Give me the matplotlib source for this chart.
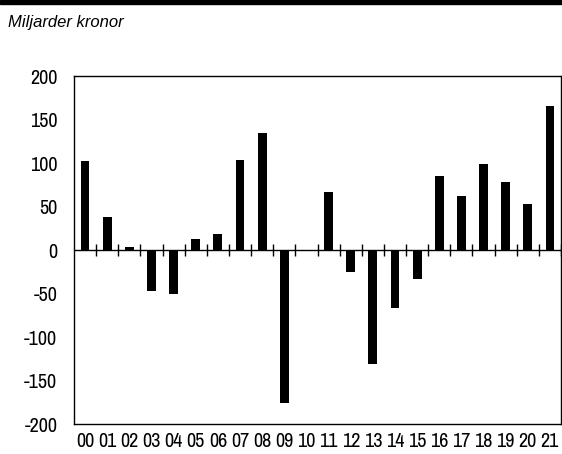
import matplotlib
matplotlib.use("Agg")
import matplotlib.pyplot as plt
from matplotlib.patches import Rectangle

# data
years = ['00', '01', '02', '03', '04', '05', '06', '07', '08', '09', '10',
         '11', '12', '13', '14', '15', '16', '17', '18', '19', '20', '21']
values = [102, 38, 3, -47, -51, 13, 18, 103, 135, -176, -1,
          67, -25, -131, -67, -33, 85, 62, 99, 78, 53, 166]
yticks = [-200, -150, -100, -50, 0, 50, 100, 150, 200]

plt.rcParams['font.family'] = ['Archivo Narrow', 'DejaVu Sans']

fig = plt.figure(figsize=(5.62, 4.54), dpi=100)
ax = fig.add_axes([74/562, 1 - 424/454, 487/562, 348/454])

x = list(range(len(years)))
ax.bar(x, values, width=0.4, color='black')

# nollinje med streck mellan åren
ax.axhline(0, color='black', linewidth=1)
ax.vlines([i + 0.5 for i in x], -7, 7, color='black', linewidth=1)

ax.set_xlim(-0.5, len(years) - 0.5)
ax.set_ylim(-200, 200)
ax.set_yticks(yticks)
ax.set_yticklabels([str(v) for v in yticks])
ax.set_xticks(x)
ax.set_xticklabels(years)
ax.tick_params(axis='both', length=0, labelsize=14.5)
ax.tick_params(axis='y', pad=12)
ax.tick_params(axis='x', pad=6)
for s in ax.spines.values():
    s.set_linewidth(1)

# rubrikband och underrubrik
fig.patches.append(Rectangle((0, 1 - 4/454), 1, 4/454, transform=fig.transFigure,
                             color='black', zorder=5))
fig.text(8/562, 1 - 22/454, 'Miljarder kronor', family='Liberation Sans',
         style='italic', fontsize=12, va='center', ha='left')

fig.savefig('out.png', dpi=100)
